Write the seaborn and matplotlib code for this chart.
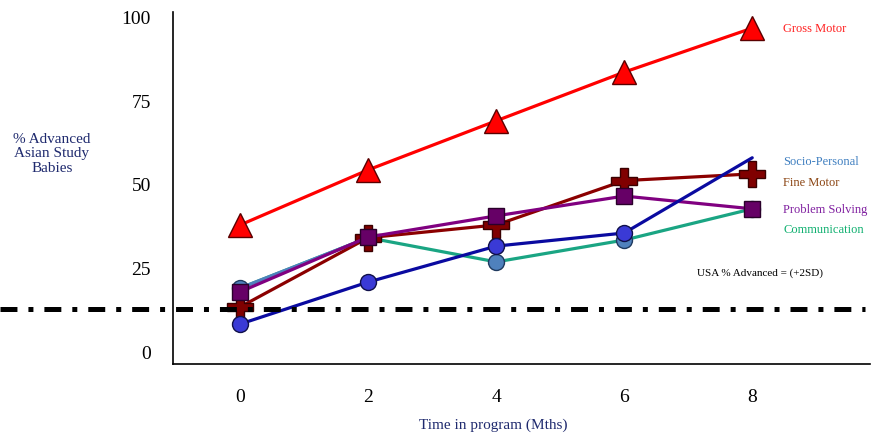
import matplotlib
matplotlib.use("Agg")
import matplotlib.pyplot as plt
import seaborn as sns

sns.set_theme(style="white")
plt.rcParams["font.family"] = ["Liberation Serif", "DejaVu Serif"]
plt.rcParams["lines.scale_dashes"] = False

# data
months = [0, 2, 4, 6, 8]
gross_motor = [37.8, 54.2, 68.8, 83.3, 96.4]
socio_personal = [8.3, 20.8, 31.5, 35.4, 57.8]
communication = [19.0, 34.0, 26.8, 33.3, 42.6]
problem_solving = [17.9, 34.2, 40.5, 46.4, 42.6]
fine_motor = [13.4, 34.0, 37.8, 51.0, 53.0]
usa_advanced = 12.8
y_ticks = [0, 25, 50, 75, 100]

fig = plt.figure(figsize=(8.74, 4.39), dpi=100)
ax = fig.add_axes([173 / 874, 1 - 365 / 439, 697 / 874, 352 / 439])

lw = 2.3
# communication: light blue markers, teal line
sns.lineplot(x=months, y=communication, ax=ax, color="#1aa583", lw=lw,
             marker="o", markersize=11.5, markerfacecolor="#4f81bd",
             markeredgecolor="#1f3a5f", markeredgewidth=1, zorder=2)
sns.lineplot(x=months[:2], y=communication[:2], ax=ax, color="#4f81bd",
             lw=lw, zorder=2)
sns.lineplot(x=months, y=fine_motor, ax=ax, color="#8b0000", lw=lw,
             marker="P", markersize=19, markerfacecolor="#800000",
             markeredgecolor="#3a0000", markeredgewidth=1, zorder=3)
sns.lineplot(x=months, y=problem_solving, ax=ax, color="#800080", lw=lw,
             marker="s", markersize=12, markerfacecolor="#660066",
             markeredgecolor="#2a002a", markeredgewidth=1, zorder=4)
sns.lineplot(x=months, y=socio_personal, ax=ax, color="#0a0aa0", lw=lw,
             marker="o", markersize=11.5, markerfacecolor="#3a3ad6",
             markeredgecolor="#10104a", markeredgewidth=1,
             markevery=[0, 1, 2, 3], zorder=5)
sns.lineplot(x=months, y=gross_motor, ax=ax, color="#ff0000", lw=lw,
             marker="^", markersize=17, markerfacecolor="#ff0000",
             markeredgecolor="#5a0000", markeredgewidth=1, zorder=6)

ax.axhline(usa_advanced, xmin=-173 / 697, xmax=692 / 697, color="black",
           lw=3.6, dashes=(12.2, 7.9, 3.6, 7.9), clip_on=False, zorder=7)

ax.set_xlim(-1.05, 9.84)
ax.set_ylim(-3.6, 101.2)
ax.set_xticks(months)
ax.set_yticks(y_ticks)
ax.tick_params(axis="both", length=0, labelsize=14, colors="black")
ax.tick_params(axis="x", pad=17)
ax.tick_params(axis="y", pad=16)
for side in ["top", "right"]:
    ax.spines[side].set_visible(False)
for side in ["left", "bottom"]:
    ax.spines[side].set_color("black")
    ax.spines[side].set_linewidth(1.2)

ax.set_xlabel("")
ax.set_ylabel("")
navy = "#1f2a6e"
fig.text(493 / 874, 1 - 425 / 439, "Time in program (Mths)", ha="center",
         va="center", fontsize=11, color=navy)
fig.text(52 / 874, 1 - 154 / 439, "% Advanced\nAsian Study\nBabies",
         ha="center", va="center", fontsize=11, color=navy, linespacing=1.15)

labels = [("Gross Motor", 29, "#ff2020"),
          ("Socio-Personal", 162, "#3f7fc0"),
          ("Fine Motor", 183, "#8b4513"),
          ("Problem Solving", 210, "#8020a0"),
          ("Communication", 230, "#10b070")]
for txt, ypx, col in labels:
    fig.text(783 / 874, 1 - ypx / 439, txt, ha="left", va="center",
             fontsize=9, color=col)
fig.text(697 / 874, 1 - 273 / 439, "USA % Advanced = (+2SD)", ha="left",
         va="center", fontsize=8, color="black")

fig.savefig("out.png", dpi=100)
